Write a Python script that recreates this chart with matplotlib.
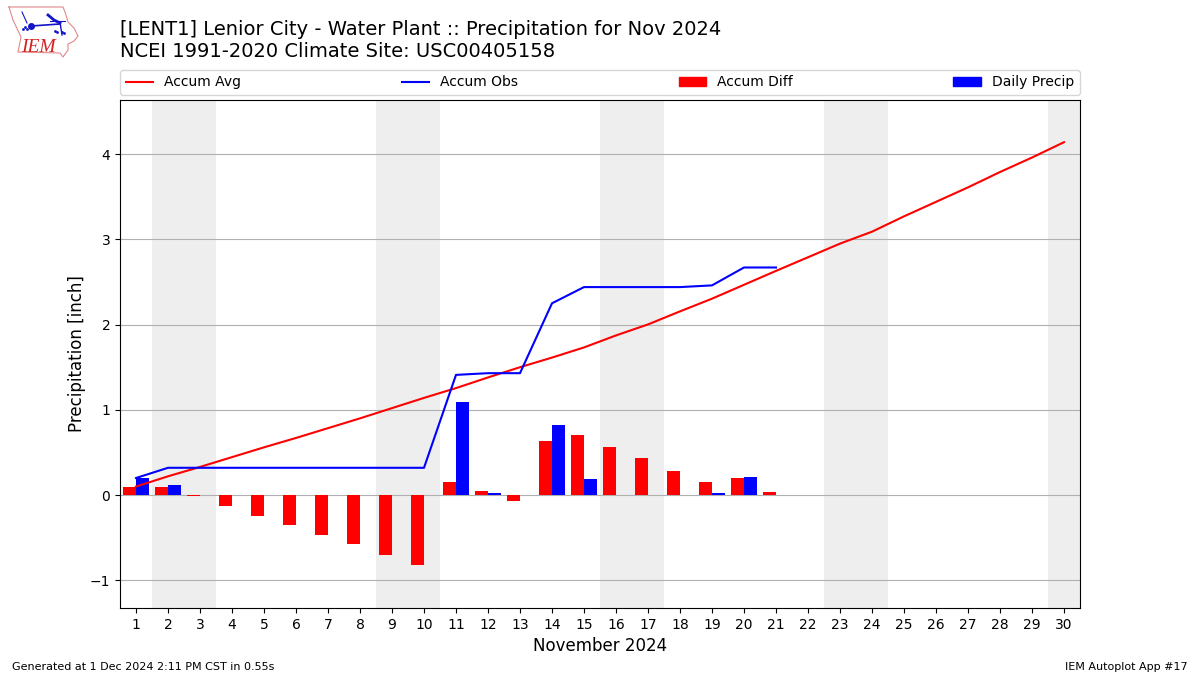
import numpy as np
from matplotlib import pyplot as plt

days = np.arange(1, 31)
accum_avg = [0.10, 0.22, 0.33, 0.445, 0.56, 0.67, 0.785, 0.90, 1.02, 1.14,
             1.255, 1.38, 1.50, 1.613, 1.732, 1.873, 2.002, 2.155, 2.304, 2.467,
             2.63, 2.79, 2.95, 3.09, 3.27, 3.44, 3.61, 3.79, 3.96, 4.14]
accum_obs = [0.20, 0.32, 0.32, 0.32, 0.32, 0.32, 0.32, 0.32, 0.32, 0.32,
             1.41, 1.43, 1.43, 2.25, 2.44, 2.44, 2.44, 2.44, 2.46, 2.67, 2.67]
accum_diff = [0.10, 0.10, -0.01, -0.125, -0.24, -0.35, -0.465, -0.57, -0.70, -0.82,
              0.155, 0.05, -0.07, 0.637, 0.708, 0.567, 0.438, 0.285, 0.156, 0.203, 0.04]
daily_precip = [0.20, 0.12, 0, 0, 0, 0, 0, 0, 0, 0,
                1.09, 0.02, 0, 0.82, 0.19, 0, 0, 0, 0.02, 0.21, 0]
weekends = [(1.5, 3.5), (8.5, 10.5), (15.5, 17.5), (22.5, 24.5), (29.5, 31.5)]

fig = plt.figure(figsize=(12, 6.75), dpi=100)
ax = fig.add_axes([0.1, 1 - 608 / 675, 0.8, 508 / 675])

for start, end in weekends:
    ax.axvspan(start, end, color='#eeeeee', lw=0, zorder=0)

# red sits left of the day, blue right of it
ax.bar(days[:len(accum_diff)], accum_diff, width=-0.4, align='edge', color='r', zorder=2)
ax.bar(days[:len(daily_precip)], daily_precip, width=0.4, align='edge', color='b', zorder=2)
ax.plot(days, accum_avg, color='r', lw=1.5, zorder=3)
ax.plot(days[:len(accum_obs)], accum_obs, color='b', lw=1.5, zorder=3)

ax.set_xlim(0.5, 30.5)
ax.set_ylim(-1.325, 4.635)
ax.set_xticks(days)
ax.set_yticks([-1, 0, 1, 2, 3, 4])
ax.yaxis.grid(True, color='#b0b0b0', lw=0.8, zorder=1)
ax.set_axisbelow(True)
ax.set_xlabel('November 2024', fontsize=12)
ax.set_ylabel('Precipitation [inch]', fontsize=12, labelpad=2.5)

# legend handles, so the order matches the original
handles = [
    plt.Line2D([], [], color='r', lw=1.5),
    plt.Line2D([], [], color='b', lw=1.5),
    plt.Rectangle((0, 0), 1, 1, color='r'),
    plt.Rectangle((0, 0), 1, 1, color='b'),
]
ax.legend(handles, ['Accum Avg', 'Accum Obs', 'Accum Diff', 'Daily Precip'],
          ncol=4, mode='expand', loc='lower left',
          bbox_to_anchor=(0, 1 + 5 / 508, 1, 25 / 508), borderaxespad=0, fontsize=10)

fig.text(120 / 1200, 1 - 35 / 675, '[LENT1] Lenior City - Water Plant :: Precipitation for Nov 2024',
         fontsize=14, va='baseline')
fig.text(120 / 1200, 1 - 57 / 675, 'NCEI 1991-2020 Climate Site: USC00405158',
         fontsize=14, va='baseline')
fig.text(12 / 1200, 1 - 670 / 675, 'Generated at 1 Dec 2024 2:11 PM CST in 0.55s', fontsize=8)
fig.text(1188 / 1200, 1 - 670 / 675, 'IEM Autoplot App #17', fontsize=8, ha='right')

# IEM logo, in pixels of the top left corner
logo = fig.add_axes([0, 1 - 70 / 675, 130 / 1200, 70 / 675])
logo.set_xlim(0, 130)
logo.set_ylim(70, 0)
logo.axis('off')
state_x = [9, 63, 65, 68, 74, 78, 74, 68, 68, 63, 60, 18, 21, 13, 9]
state_y = [7, 7, 12, 22, 28, 36, 41, 44, 50, 57, 53, 52, 37, 20, 7]
logo.plot(state_x, state_y, color='#e08a8a', lw=0.8)
logo.plot([31, 60], [26, 24], color='#1414c8', lw=1.2)
logo.plot([48, 54, 60], [15, 20, 23], color='#1414c8', lw=2)
logo.plot([50, 65], [21, 21], color='#1414c8', lw=0.8)
logo.plot([60, 62], [22, 35], color='#1414c8', lw=1)
logo.plot([55, 57, 62, 64], [31, 32, 32, 33], '.', color='#1414c8', ms=2)
logo.plot([22, 27], [12, 23], color='#1414c8', lw=0.8)
logo.plot([31], [26], 'o', color='#1414c8', ms=4)
logo.plot([23, 25, 27], [29, 27, 29], '.', color='#1414c8', ms=2)
logo.text(21, 52, 'IEM', family='Liberation Serif', style='italic', color='#d62020', fontsize=14)

fig.savefig('out.png', dpi=100)
